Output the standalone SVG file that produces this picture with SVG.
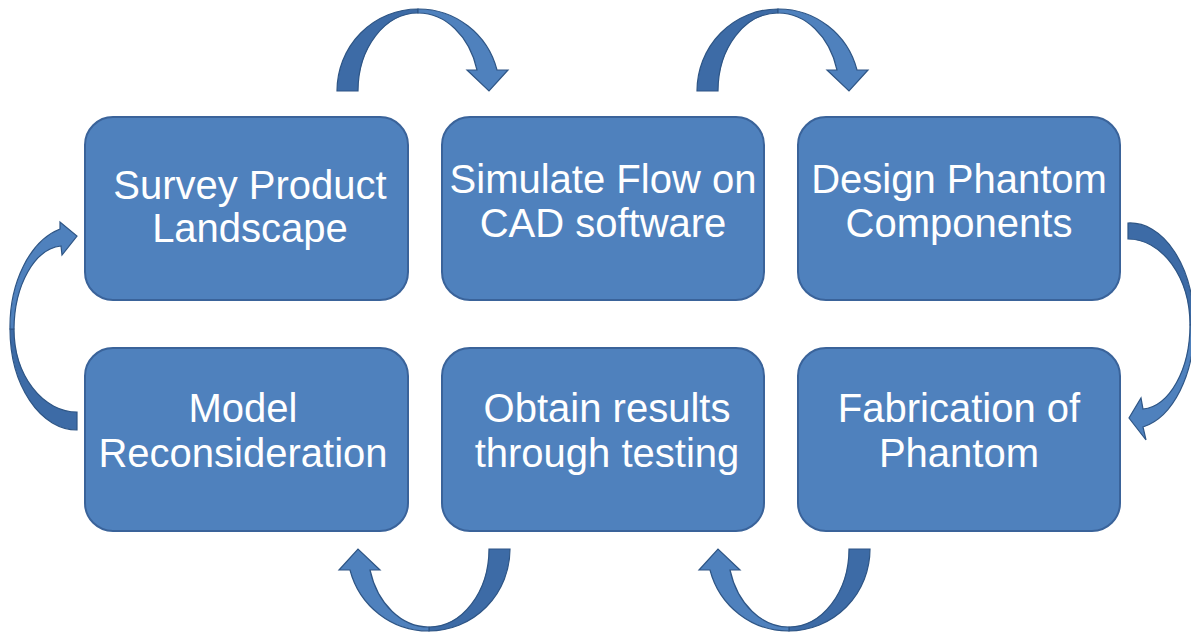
<svg xmlns="http://www.w3.org/2000/svg" width="1191" height="633" viewBox="0 0 1191 633">
<style>
.box{fill:#4F81BD;stroke:#3A639A;stroke-width:2}
.lbl{font-family:"Liberation Sans",Arial,sans-serif;font-size:40px;fill:#FFFFFF;text-anchor:middle}
.dk{fill:#3D6BA6;stroke:#2E5585;stroke-width:1.2}
.lt{fill:#4F81BD;stroke:#2E5585;stroke-width:1.2}
</style>
<rect width="1191" height="633" fill="#FFFFFF"/>
<g id="connectors">
  <g id="arrow-top-1">
    <path class="dk" d="M337,91 A81,82 0 0 1 418,9 L418,13 A60,78 0 0 0 358,91 Z"/>
    <path class="lt" d="M418,9 A81,82 0 0 1 497,70 L508,70 L489,91 L467,70 L477,70 A61,78 0 0 0 418,13 Z"/>
  </g>
  <g id="arrow-top-2" transform="translate(360,0)">
    <path class="dk" d="M337,91 A81,82 0 0 1 418,9 L418,13 A60,78 0 0 0 358,91 Z"/>
    <path class="lt" d="M418,9 A81,82 0 0 1 497,70 L508,70 L489,91 L467,70 L477,70 A61,78 0 0 0 418,13 Z"/>
  </g>
  <g id="arrow-bottom-1" transform="rotate(180 423.5 320)">
    <path class="dk" d="M337,91 A81,82 0 0 1 418,9 L418,13 A60,78 0 0 0 358,91 Z"/>
    <path class="lt" d="M418,9 A81,82 0 0 1 497,70 L508,70 L489,91 L467,70 L477,70 A61,78 0 0 0 418,13 Z"/>
  </g>
  <g id="arrow-bottom-2" transform="rotate(180 603.5 320)">
    <path class="dk" d="M337,91 A81,82 0 0 1 418,9 L418,13 A60,78 0 0 0 358,91 Z"/>
    <path class="lt" d="M418,9 A81,82 0 0 1 497,70 L508,70 L489,91 L467,70 L477,70 A61,78 0 0 0 418,13 Z"/>
  </g>
  <g id="arrow-right">
    <path class="dk" d="M1128,223 A64,102 0 0 1 1194,325 L1190,325 A62,86 0 0 0 1128,239 Z"/>
    <path class="lt" d="M1194,325 A64,102 0 0 1 1143,427 L1146,440 L1129,418 L1141,398 L1143,409 A50,84 0 0 0 1190,325 Z"/>
  </g>
  <g id="arrow-left">
    <path class="dk" d="M77,430 A67,101 0 0 1 10,329 L14,329 A63,83 0 0 0 77,412 Z"/>
    <path class="lt" d="M10,329 A67,101 0 0 1 60,229 L60,222 L77,236 L62,255 L61,246 A50,84 0 0 0 14,329 Z"/>
  </g>
</g>
<g id="node-survey">
  <rect class="box" x="85" y="117" width="323" height="183" rx="28"/>
  <text class="lbl" x="250" y="199">Survey Product</text>
  <text class="lbl" x="250" y="242">Landscape</text>
</g>
<g id="node-simulate">
  <rect class="box" x="442" y="117" width="322" height="183" rx="28"/>
  <text class="lbl" x="603" y="193">Simulate Flow on</text>
  <text class="lbl" x="603" y="237">CAD software</text>
</g>
<g id="node-design">
  <rect class="box" x="798" y="117" width="322" height="183" rx="28"/>
  <text class="lbl" x="959" y="193">Design Phantom</text>
  <text class="lbl" x="959" y="237">Components</text>
</g>
<g id="node-model">
  <rect class="box" x="85" y="348" width="323" height="183" rx="28"/>
  <text class="lbl" x="243" y="422">Model</text>
  <text class="lbl" x="243" y="467">Reconsideration</text>
</g>
<g id="node-obtain">
  <rect class="box" x="442" y="348" width="322" height="183" rx="28"/>
  <text class="lbl" x="607" y="422">Obtain results</text>
  <text class="lbl" x="607" y="467">through testing</text>
</g>
<g id="node-fabrication">
  <rect class="box" x="798" y="348" width="322" height="183" rx="28"/>
  <text class="lbl" x="959" y="422">Fabrication of</text>
  <text class="lbl" x="959" y="467">Phantom</text>
</g>
</svg>
